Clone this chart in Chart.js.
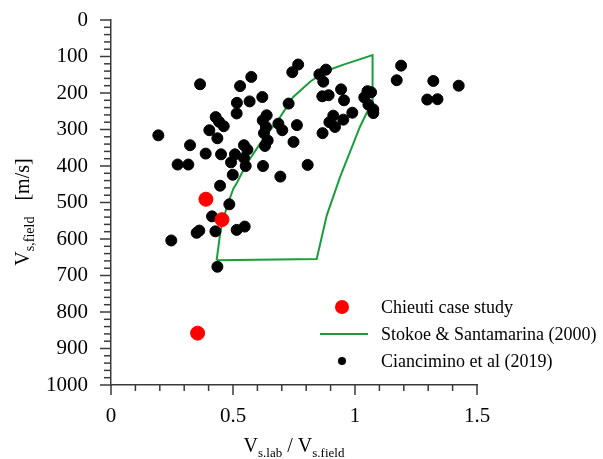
<!DOCTYPE html>
<html>
<head>
<meta charset="utf-8">
<script src="https://cdn.jsdelivr.net/npm/chart.js@4.4.1/dist/chart.umd.min.js"></script>
<style>
  body { margin: 0; background: #fff; }
  canvas { display: block; }
</style>
</head>
<body>
<canvas id="chart" width="603" height="459"></canvas>
<script>
// Chieuti case study (red)
const chieutiX = [0.389, 0.455, 0.355];
const chieutiY = [491, 547, 858];

// Stokoe & Santamarina (2000) envelope (green outline)
const stokoeX = [0.433, 0.449, 0.474, 0.501, 0.515, 0.556, 0.620, 0.693, 0.747, 0.816, 0.884, 0.950, 1.072,
                 1.072, 1.048, 1.020, 0.995, 0.939, 0.884, 0.843, 0.433];
const stokoeY = [658, 577, 513, 463, 447, 394, 330, 266, 211, 169, 139, 123, 96,
                 228, 254, 293, 335, 430, 536, 655, 658];

// Ciancimino et al (2019) (black)
const cianciminoX = [0.365, 0.194, 0.273, 0.317, 0.324, 0.388, 0.403, 0.436, 0.429, 0.443, 0.462, 0.451, 0.492,
                     0.508, 0.545, 0.559, 0.545, 0.552, 0.499, 0.447, 0.485, 0.515, 0.516, 0.529, 0.575, 0.568,
                     0.620, 0.638, 0.622, 0.635, 0.627, 0.642, 0.631, 0.623, 0.686, 0.702, 0.748, 0.762, 0.728,
                     0.743, 0.767, 0.694, 0.854, 0.881, 0.870, 0.866, 0.892, 0.943, 0.955, 0.806, 0.911, 0.895,
                     0.918, 0.952, 0.989, 0.867, 1.038, 1.051, 1.066, 1.055, 1.075, 1.075, 1.189, 1.171, 1.321,
                     1.296, 1.338, 1.425, 0.414, 0.362, 0.351, 0.428, 0.515, 0.548, 0.247, 0.436];
const cianciminoY = [176, 316, 396, 396, 343, 366, 302, 324, 266, 279, 291, 368, 390,
                     368, 343, 355, 378, 400, 424, 454, 505, 256, 227, 181, 156, 223,
                     211, 261, 275, 293, 310, 330, 345, 400, 284, 302, 334, 288, 229,
                     143, 122, 429, 149, 136, 169, 209, 206, 190, 220, 397, 262, 280,
                     293, 273, 254, 310, 212, 195, 198, 232, 245, 255, 125, 165, 167,
                     218, 217, 180, 538, 577, 583, 579, 575, 566, 604, 676];

const seriesLabels = ['Chieuti case study', 'Stokoe & Santamarina (2000)', 'Ciancimino et al (2019)'];

const toPoints = (xs, ys) => xs.map((x, i) => ({ x: x, y: ys[i] }));

const FONT = "'Liberation Serif', 'Times New Roman', serif";
const AXIS_COLOR = '#3a3a3a';
const GREEN = '#1a9e3c';

// tick marks (minor and major), axis titles with subscripts, legend
const decorPlugin = {
    id: 'decor',
    afterDraw(chart) {
        const ctx = chart.ctx;
        const xs = chart.scales.x;
        const ys = chart.scales.y;
        const left = chart.chartArea.left;
        const bottom = chart.chartArea.bottom;
        ctx.save();
        ctx.strokeStyle = AXIS_COLOR;
        ctx.lineWidth = 1.5;

        ys.ticks.forEach(t => {
            const py = ys.getPixelForValue(t.value);
            ctx.beginPath();
            ctx.moveTo(left - (t.label ? 11 : 7), py);
            ctx.lineTo(left, py);
            ctx.stroke();
        });
        xs.ticks.forEach(t => {
            const px = xs.getPixelForValue(t.value);
            ctx.beginPath();
            ctx.moveTo(px, bottom);
            ctx.lineTo(px, bottom + (t.label ? 10 : 6));
            ctx.stroke();
        });

        // text with subscripts
        const drawParts = (parts, x0, y0) => {
            let x = x0;
            parts.forEach(p => {
                ctx.font = p.size + 'px ' + FONT;
                ctx.fillText(p.text, x, y0 + (p.sub ? 5 : 0));
                x += ctx.measureText(p.text).width + (p.gap || 0);
            });
        };
        const widthOf = parts => parts.reduce((w, p) => {
            ctx.font = p.size + 'px ' + FONT;
            return w + ctx.measureText(p.text).width + (p.gap || 0);
        }, 0);

        ctx.fillStyle = '#000';
        ctx.textBaseline = 'alphabetic';
        ctx.textAlign = 'left';

        const xTitle = [
            { text: 'V', size: 20 },
            { text: 's.lab', size: 13, sub: true },
            { text: ' / V', size: 20 },
            { text: 's.field', size: 13, sub: true }
        ];
        const xMid = (chart.chartArea.left + chart.chartArea.right) / 2;
        drawParts(xTitle, xMid - widthOf(xTitle) / 2, 452);

        const yTitle = [
            { text: 'V', size: 20 },
            { text: 's,field', size: 14, sub: true, gap: 16 },
            { text: '[m/s]', size: 20 }
        ];
        ctx.save();
        ctx.translate(29, 212);
        ctx.rotate(-Math.PI / 2);
        drawParts(yTitle, -widthOf(yTitle) / 2, 0);
        ctx.restore();

        // legend
        const rows = [307, 334, 361];
        ctx.font = '18px ' + FONT;
        ctx.textBaseline = 'middle';
        chart.data.datasets.forEach((ds, i) => {
            const y = rows[i];
            if (ds.showLine) {
                ctx.strokeStyle = ds.borderColor;
                ctx.lineWidth = ds.borderWidth;
                ctx.beginPath();
                ctx.moveTo(320, y);
                ctx.lineTo(368, y);
                ctx.stroke();
            } else {
                ctx.fillStyle = ds.backgroundColor;
                ctx.beginPath();
                ctx.arc(342, y, i === 0 ? 7 : 4, 0, Math.PI * 2);
                ctx.fill();
            }
            ctx.fillStyle = '#000';
            ctx.fillText(ds.label, 381, y + 1);
        });
        ctx.restore();
    }
};

new Chart(document.getElementById('chart'), {
    type: 'scatter',
    data: {
        datasets: [{
            label: seriesLabels[0],
            data: toPoints(chieutiX, chieutiY),
            backgroundColor: '#ff0000',
            borderColor: '#ff0000',
            pointRadius: 7
        }, {
            label: seriesLabels[1],
            data: toPoints(stokoeX, stokoeY),
            showLine: true,
            borderColor: GREEN,
            backgroundColor: GREEN,
            borderWidth: 2,
            pointRadius: 0,
            fill: false,
            tension: 0,
            order: 2
        }, {
            label: seriesLabels[2],
            data: toPoints(cianciminoX, cianciminoY),
            backgroundColor: '#000',
            borderColor: '#000',
            pointRadius: 5.5,
            order: 1
        }]
    },
    options: {
        responsive: false,
        animation: false,
        layout: { padding: { top: 20, right: 126, left: 0, bottom: 0 } },
        plugins: {
            legend: { display: false },
            tooltip: { enabled: false }
        },
        scales: {
            x: {
                type: 'linear',
                min: 0,
                max: 1.5,
                afterFit: s => { s.height = 74; s.paddingLeft = 0; s.paddingRight = 0; },
                border: { display: true, color: AXIS_COLOR, width: 1.5 },
                grid: { display: false, drawTicks: false, tickLength: 0 },
                ticks: {
                    stepSize: 0.1,
                    autoSkip: false,
                    maxRotation: 0,
                    padding: 19,
                    color: '#000',
                    font: { family: FONT, size: 21 },
                    callback: v => (Math.round(v * 10) % 5 === 0 ? String(Math.round(v * 10) / 10) : '')
                }
            },
            y: {
                type: 'linear',
                reverse: true,
                min: 0,
                max: 1000,
                afterFit: s => { s.width = 111; s.paddingTop = 0; s.paddingBottom = 0; },
                border: { display: true, color: AXIS_COLOR, width: 1.5 },
                grid: { display: false, drawTicks: false, tickLength: 0 },
                ticks: {
                    stepSize: 20,
                    autoSkip: false,
                    padding: 23,
                    color: '#000',
                    font: { family: FONT, size: 21 },
                    callback: v => (v % 100 === 0 ? String(v) : '')
                }
            }
        }
    },
    plugins: [decorPlugin]
});
</script>
</body>
</html>
